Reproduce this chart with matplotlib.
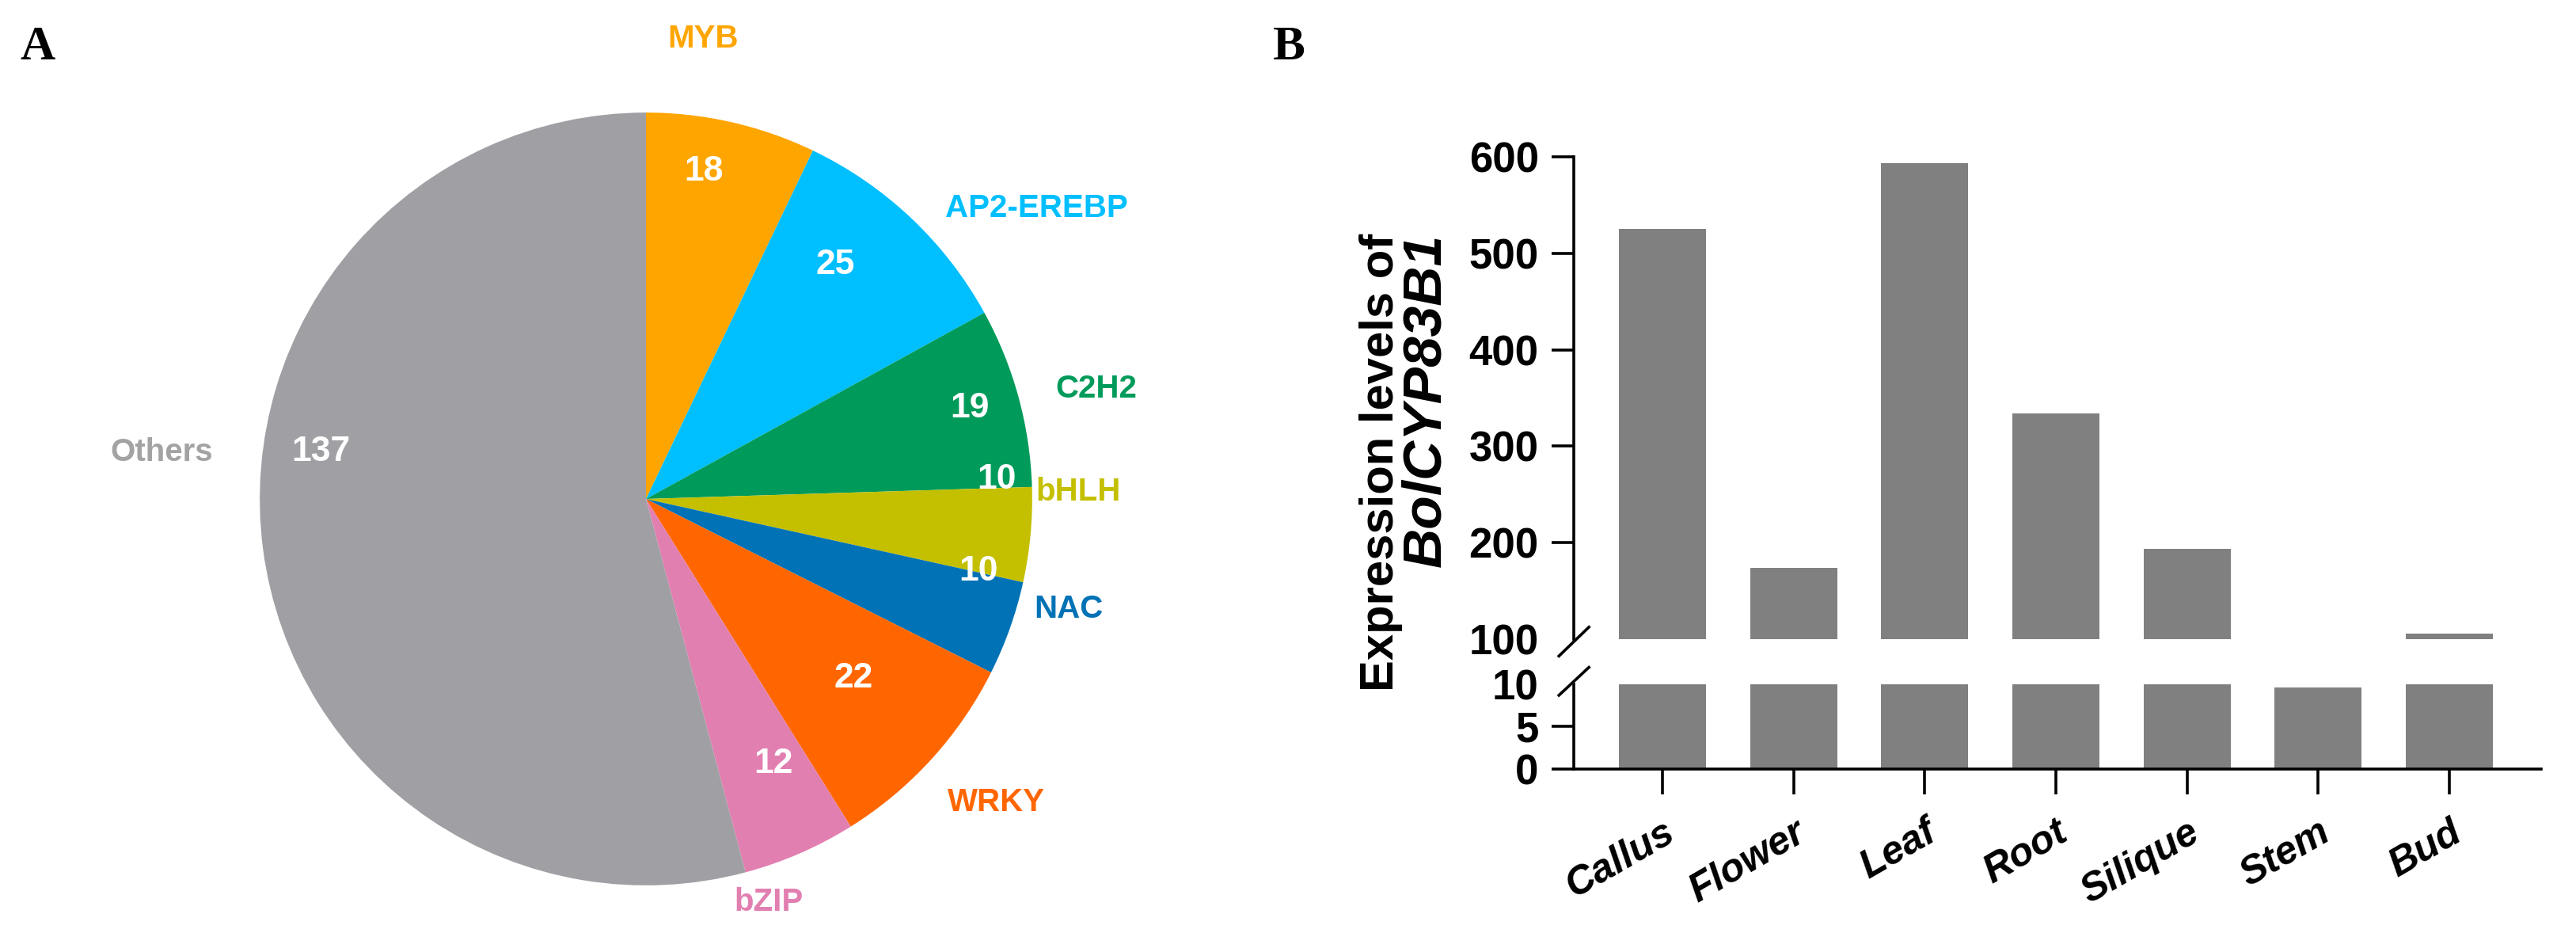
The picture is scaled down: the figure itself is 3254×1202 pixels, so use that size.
import numpy as np
import matplotlib
matplotlib.use("Agg")
import matplotlib.pyplot as plt

plt.rcParams['font.family'] = ['Liberation Sans', 'DejaVu Sans']

# panel A: transcription factor families
tf_names = ['MYB', 'AP2-EREBP', 'C2H2', 'bHLH', 'NAC', 'WRKY', 'bZIP', 'Others']
tf_counts = [18, 25, 19, 10, 10, 22, 12, 137]
tf_colors = ['#FFA500', '#00BFFF', '#009B5A', '#C4C000', '#0072B5', '#FF6600', '#E27FB1', '#A09FA4']
label_colors = ['#FFA500', '#00BFFF', '#009B5A', '#C4C000', '#0072B5', '#FF6600', '#E27FB1', '#A3A3A3']

# panel B: expression
tissues = ['Callus', 'Flower', 'Leaf', 'Root', 'Silique', 'Stem', 'Bud']
expression = [525, 174, 593, 334, 194, 9.6, 106]

# label placement tweaks (radius, angle shift in degrees)
in_dist = [0.86, 0.78, 0.87, 0.91, 0.88, 0.71, 0.76, 0.85]
in_shift = [2.8, 4.4, 0.3, 8.5, 7.3, 1.4, 2.2, -15.7]
out_dist = [1.2, 1.26, 1.2, 1.12, 1.13, 1.2, 1.09, 1.26]
out_shift = [5.7, -10, -1.6, 6.3, 5.0, 1.5, -6.5, -13]

fig = plt.figure(figsize=(32.55, 12.02), dpi=100)

# ---------- A ----------
ax_pie = fig.add_axes([0.04086, -0.09235, 0.41966, 1.13644])
wedges, _ = ax_pie.pie(tf_counts, colors=tf_colors, startangle=90, counterclock=False,
                       wedgeprops=dict(linewidth=0))
ax_pie.set_xlim(-1.4, 1.4)
ax_pie.set_ylim(-1.4, 1.4)
ax_pie.set_aspect('auto')
ax_pie.axis('off')

for i, w in enumerate(wedges):
    mid = (w.theta1 + w.theta2) / 2
    a = np.deg2rad(mid + in_shift[i])
    ax_pie.text(in_dist[i] * np.cos(a), in_dist[i] * np.sin(a), str(tf_counts[i]),
                color='white', fontsize=32, fontweight='bold', ha='center', va='center')
    a = np.deg2rad(mid + out_shift[i])
    ax_pie.text(out_dist[i] * np.cos(a), out_dist[i] * np.sin(a), tf_names[i],
                color=label_colors[i], fontsize=29, fontweight='bold', ha='center', va='center')

fig.text(0.0077, 0.938, 'A', family='Liberation Serif', fontweight='bold', fontsize=44,
         ha='left', va='baseline')
fig.text(0.494, 0.938, 'B', family='Liberation Serif', fontweight='bold', fontsize=44,
         ha='left', va='baseline')

# ---------- B ----------
x = np.arange(len(tissues))
ax_top = fig.add_axes([0.6108, 0.3286, 0.3754, 0.5067])
ax_bot = fig.add_axes([0.6108, 0.1922, 0.3754, 0.0890])

for ax in (ax_top, ax_bot):
    ax.bar(x, expression, width=0.664, color='#808080', bottom=0)
    ax.set_xlim(-0.676, 6.70)
    ax.spines['top'].set_visible(False)
    ax.spines['right'].set_visible(False)
    ax.spines['left'].set_linewidth(2.6)
    ax.spines['bottom'].set_linewidth(2.6)
    ax.tick_params(axis='y', length=20, width=2.6, labelsize=38, pad=12)

ax_top.set_ylim(100, 600)
ax_top.set_yticks([100, 200, 300, 400, 500, 600])
ax_top.set_yticklabels(['100', '200', '300', '400', '500', '600'], fontweight='bold')
ax_top.yaxis.get_major_ticks()[0].tick1line.set_visible(False)
ax_top.spines['bottom'].set_visible(False)
ax_top.set_xticks([])

ax_bot.set_ylim(0, 10)
ax_bot.set_yticks([0, 5, 10])
ax_bot.set_yticklabels(['0', '5', '10'], fontweight='bold')
ax_bot.yaxis.get_major_ticks()[2].tick1line.set_visible(False)
ax_bot.set_xticks(x)
ax_bot.set_xticklabels(tissues, rotation=30, ha='right', rotation_mode='anchor',
                       fontsize=36, fontweight='bold', style='italic')
ax_bot.tick_params(axis='x', length=23, width=2.6, pad=18)

# break marks
ax_top.plot([-0.0155, 0.0155], [-0.035, 0.025], color='black', lw=2.6,
            transform=ax_top.transAxes, clip_on=False)
ax_bot.plot([-0.0155, 0.0155], [0.87, 1.2], color='black', lw=2.6,
            transform=ax_bot.transAxes, clip_on=False)

fig.text(0.5358, 0.7546, 'Expression levels of', rotation=90, rotation_mode='anchor',
         ha='right', va='center', fontsize=43, fontweight='bold')
fig.text(0.5535, 0.7546, 'BolCYP83B1', rotation=90, rotation_mode='anchor',
         ha='right', va='center', fontsize=50, fontweight='bold', style='italic')

fig.savefig('out.png', dpi=100, facecolor='white')
